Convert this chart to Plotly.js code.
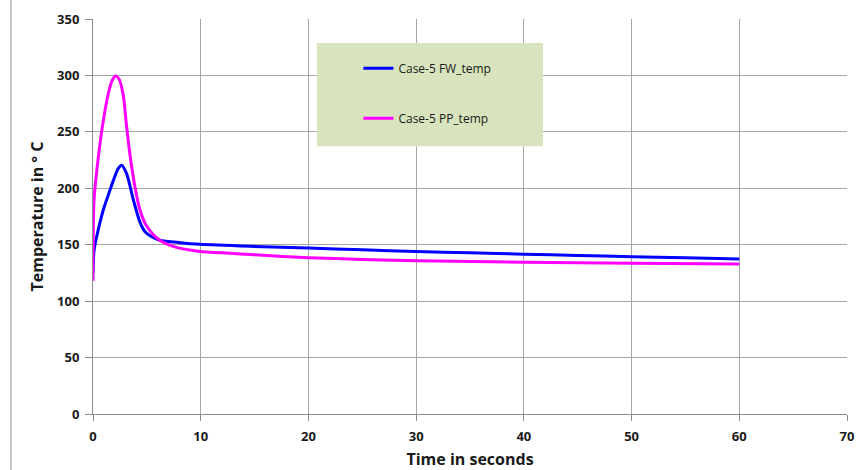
<!DOCTYPE html>
<html>
<head>
<meta charset="utf-8">
<script src="https://cdn.plot.ly/plotly-3.0.1.min.js"></script>
<style>html,body{margin:0;padding:0;background:#fff;}#chart{width:858px;height:470px;}</style>
</head>
<body>
<div id="chart"></div>
<script>
var fwName = 'Case-5 FW_temp';
var ppName = 'Case-5 PP_temp';
var fwTime = [0, 0.1, 0.34, 0.96, 1.58, 1.89, 2.35, 2.66, 3.12, 3.74, 4.36, 4.83, 5.45, 6.2, 8.1, 9.94, 15, 20, 25, 30, 35, 40, 45, 50, 55, 60];
var fwTemp = [125, 145, 157, 181, 198.5, 207, 217.7, 220.5, 213, 190, 170, 161.5, 157, 154, 151.8, 150.4, 148.5, 147, 145.5, 144, 142.8, 141.6, 140.5, 139.4, 138.4, 137.4];
var ppTime = [0, 0.1, 0.5, 0.96, 1.42, 1.8, 2.1, 2.4, 2.8, 3.12, 3.5, 3.9, 4.3, 4.83, 5.5, 6.2, 7, 8, 9, 10, 12, 15, 20, 25, 30, 40, 50, 60];
var ppTemp = [118, 190, 228, 260, 284, 296, 299.5, 297, 283, 254.6, 225, 201, 183, 169, 160, 154, 150, 147, 145.3, 144, 142.8, 141, 138.5, 137, 135.8, 134.5, 133.6, 133];
var xTicks = [0, 10, 20, 30, 40, 50, 60, 70];
var yTicks = [0, 50, 100, 150, 200, 250, 300, 350];

var fam = 'Open Sans, Noto Sans, sans-serif';
var tickFont = {family: fam, size: 13, color: '#1a1a1a', weight: 'bold'};

var traces = [
  {x: fwTime, y: fwTemp, name: fwName, type: 'scatter', mode: 'lines', line: {color: '#0000ff', width: 3, shape: 'spline', smoothing: 0.8}, legendgroup: 'a'},
  {x: ppTime, y: ppTemp, name: ppName, type: 'scatter', mode: 'lines', line: {color: '#ff00ff', width: 3, shape: 'spline', smoothing: 0.8}, legendgroup: 'b'}
];

var layout = {
  width: 858, height: 470,
  margin: {l: 93, r: 11, t: 19, b: 56},
  paper_bgcolor: '#ffffff', plot_bgcolor: '#ffffff',
  showlegend: true,
  legend: {
    x: 0.352, y: 0.912, xanchor: 'left', yanchor: 'top',
    bgcolor: 'rgba(0,0,0,0)', borderwidth: 0,
    traceorder: 'grouped', tracegroupgap: 31, itemwidth: 30,
    font: {family: fam, size: 12, color: '#1a1a1a'}
  },
  xaxis: {
    range: [0, 70], tickvals: xTicks, ticktext: xTicks.map(String),
    showgrid: true, gridcolor: '#a6a6a6', gridwidth: 1,
    showline: true, linecolor: '#8c8c8c', linewidth: 1, mirror: false,
    ticks: 'outside', ticklen: 6, tickcolor: '#8c8c8c', ticklabelstandoff: 4,
    zeroline: false, tickfont: tickFont,
    title: {text: 'Time in seconds', font: {family: fam, size: 16, color: '#1a1a1a', weight: 'bold'}, standoff: 10}
  },
  yaxis: {
    range: [0, 350], tickvals: yTicks, ticktext: yTicks.map(String),
    showgrid: true, gridcolor: '#a6a6a6', gridwidth: 1,
    showline: true, linecolor: '#8c8c8c', linewidth: 1,
    ticks: 'outside', ticklen: 7, tickcolor: '#8c8c8c', ticklabelstandoff: 3,
    zeroline: false, tickfont: tickFont,
    title: {text: 'Temperature in ° C', font: {family: fam, size: 16, color: '#1a1a1a', weight: 'bold'}, standoff: 9}
  },
  shapes: [
    {type: 'rect', xref: 'paper', yref: 'paper', x0: 0.297, x1: 0.5968, y0: 0.678, y1: 0.939, fillcolor: '#d7e4bd', line: {width: 0}, layer: 'above'},
    {type: 'line', xref: 'paper', yref: 'paper', x0: -0.1088, x1: -0.1088, y0: -0.15, y1: 1.06, line: {color: '#8c8c8c', width: 1}}
  ]
};

Plotly.newPlot('chart', traces, layout, {displayModeBar: false, staticPlot: true});
</script>
</body>
</html>
